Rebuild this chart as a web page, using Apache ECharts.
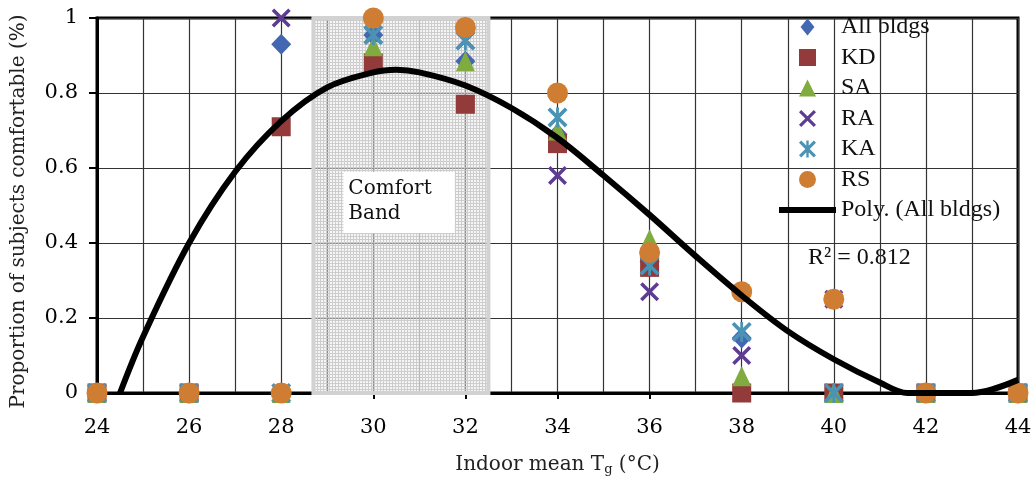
<!DOCTYPE html>
<html><head><meta charset="utf-8">
<script src="https://cdn.jsdelivr.net/npm/echarts@6/dist/echarts.min.js"></script>
<style>html,body{margin:0;padding:0;background:#fff}#c{width:1033px;height:478px}</style>
</head><body><div id="c"></div>
<script>
// ---- data ----
const temps      = [24, 26, 28, 30, 32, 34, 36, 38, 40, 42, 44];
const allBldgs   = [0, 0, 0.93, 0.955, 0.885, 0.69, 0.35, 0.147, 0.25, 0, 0];
const kd         = [0, 0, 0.71, 0.88, 0.77, 0.665, 0.335, 0, 0, 0, 0];
const sa         = [0, 0, 0, 0.925, 0.885, 0.70, 0.41, 0.045, 0, 0, 0];
const ra         = [0, 0, 1.0, 0.955, 0.94, 0.58, 0.27, 0.10, 0.25, 0, 0];
const ka         = [0, 0, 0, 0.955, 0.94, 0.735, 0.34, 0.163, 0, 0, 0];
const rs         = [0, 0, 0, 1.0, 0.975, 0.80, 0.375, 0.27, 0.25, 0, 0];
const polyX      = [24.5, 25, 26, 27, 28, 29, 30, 30.5, 31, 32, 33, 34, 35, 36, 37, 38, 39, 40, 41, 41.6, 42, 42.5, 43, 43.5, 44];
const polyY      = [0, 0.15, 0.40, 0.59, 0.725, 0.815, 0.855, 0.862, 0.855, 0.82, 0.76, 0.68, 0.58, 0.475, 0.365, 0.26, 0.165, 0.09, 0.028, 0, 0, 0, 0, 0.012, 0.035];
const comfortBand = [28.7, 32.5];
const bandLabelBox = [[29.35, 0.59], [31.77, 0.427]];
const legendNames = ['All bldgs', 'KD', 'SA', 'RA', 'KA', 'RS', 'Poly. (All bldgs)'];
const r2Text = 'R\u00B2 = 0.812';

// ---- styling ----
const AX_FONT = 'DejaVu Serif';
const LG_FONT = 'Liberation Serif';
const diamondPath = 'M5,0 L9.5,5.5 L5,11 L0.5,5.5 Z';
const rectPath = 'M0,0 L10,0 L10,10 L0,10 Z';
const triPath = 'M5,0 L10,10 L0,10 Z';
const xPath = 'M0,1.3 L1.3,0 L5,3.7 L8.7,0 L10,1.3 L6.3,5 L10,8.7 L8.7,10 L5,6.3 L1.3,10 L0,8.7 L3.7,5 Z';
const astPath = xPath + ' M4.3,0 L5.7,0 L5.7,10 L4.3,10 Z';
const barIcon = 'path://M0,0 L57,0 L57,6 L0,6 Z';
const legendIcons = ['path://' + diamondPath, 'path://' + rectPath, 'path://' + triPath, 'path://' + xPath, 'path://' + astPath, 'circle', barIcon];

const pc = document.createElement('canvas');
pc.width = 3; pc.height = 3;
const g = pc.getContext('2d');
g.fillStyle = 'rgba(236,236,236,0.5)'; g.fillRect(0, 0, 2, 2);
g.fillStyle = 'rgba(200,200,200,0.9)'; g.fillRect(2, 0, 1, 3); g.fillRect(0, 2, 2, 1);

function pts(arr) { return temps.map((t, i) => [t, arr[i]]); }
function sc(name, arr, symbol, size, color) {
  return { type: 'scatter', name: name, data: pts(arr), symbol: symbol, symbolSize: size, symbolKeepAspect: true,
    itemStyle: { color: color, opacity: 1 }, clip: false, z: 2, silent: true };
}

const chart = echarts.init(document.getElementById('c'), null, { renderer: 'canvas' });
chart.setOption({
  animation: false,
  backgroundColor: '#fff',
  grid: { left: 97, right: 15, top: 18, bottom: 85, containLabel: false, outerBoundsMode: 'none',
    show: true, borderColor: '#000', borderWidth: 3, backgroundColor: 'transparent' },
  legend: {
    orient: 'vertical', left: 779, top: 15, padding: 0, itemWidth: 57, itemHeight: 17, itemGap: 6.5,
    data: legendNames.map((n, i) => ({ name: n, icon: legendIcons[i] })),
    selectedMode: false,
    textStyle: { fontFamily: LG_FONT, fontSize: 24, color: '#111' }
  },
  graphic: [{ type: 'text', left: 808, top: 246, silent: true,
    style: { text: r2Text, font: '24px "' + LG_FONT + '"', fill: '#111' } }],
  xAxis: {
    type: 'value', min: 24, max: 44, interval: 2,
    axisLine: { show: true, onZero: false, lineStyle: { color: '#000', width: 3 } },
    axisTick: { show: true, inside: false, length: 6, lineStyle: { color: '#000', width: 2 } },
    axisLabel: { fontFamily: AX_FONT, fontSize: 21, color: '#000', margin: 24 },
    splitLine: { show: true, lineStyle: { color: '#333', width: 1.2 } },
    minorTick: { show: false, splitNumber: 2 },
    minorSplitLine: { show: true, lineStyle: { color: '#333', width: 1.2 } },
    name: 'Indoor mean T{sub|g} (\u00B0C)', nameLocation: 'middle', nameGap: 60,
    nameTextStyle: { fontFamily: AX_FONT, fontSize: 20, color: '#222',
      rich: { sub: { fontFamily: AX_FONT, fontSize: 13, color: '#222', padding: [10, 0, 0, 0] } } }
  },
  yAxis: {
    type: 'value', min: 0, max: 1, interval: 0.2,
    axisLine: { show: true, lineStyle: { color: '#000', width: 3 } },
    axisTick: { show: true, length: 8, lineStyle: { color: '#000', width: 2 } },
    axisLabel: { fontFamily: AX_FONT, fontSize: 21, color: '#000', margin: 19 },
    splitLine: { show: true, lineStyle: { color: '#333', width: 1.2 } },
    name: 'Proportion of subjects comfortable (%)', nameLocation: 'middle', nameGap: 68, nameRotate: 90,
    nameTextStyle: { fontFamily: AX_FONT, fontSize: 20, color: '#222', padding: [0, 12, 0, 0] }
  },
  series: [
    sc('All bldgs', allBldgs, 'diamond', [20, 21], '#4467b1'),
    sc('KD', kd, 'rect', 19, '#933a3a'),
    sc('SA', sa, 'triangle', [19, 20], '#80ab3e'),
    sc('RA', ra, 'path://' + xPath, 19, '#5d3c92'),
    sc('KA', ka, 'path://' + astPath, 20, '#4a93b5'),
    sc('RS', rs, 'circle', 21, '#cf7d32'),
    { type: 'line', name: 'Poly. (All bldgs)', data: polyX.map((x, i) => [x, polyY[i]]),
      symbol: 'none', smooth: 0.35, lineStyle: { color: '#000', width: 6 }, itemStyle: { color: '#000' },
      z: 3, silent: true },
    { type: 'line', name: 'band', data: [], z: 5, silent: true,
      markArea: { silent: true, data: [
        [{ xAxis: comfortBand[0], yAxis: 0, itemStyle: { color: { image: pc, repeat: 'repeat' }, borderColor: '#d2d2d2', borderWidth: 4 } },
         { xAxis: comfortBand[1], yAxis: 1 }],
        [{ xAxis: bandLabelBox[0][0], yAxis: bandLabelBox[0][1], itemStyle: { color: '#fff', borderWidth: 0 },
           label: { show: true, position: 'insideTopLeft', distance: 5, formatter: 'Comfort\nBand',
             fontFamily: AX_FONT, fontSize: 20, lineHeight: 25, color: '#111' } },
         { xAxis: bandLabelBox[1][0], yAxis: bandLabelBox[1][1] }]
      ] } }
  ]
});
</script>
</body></html>
